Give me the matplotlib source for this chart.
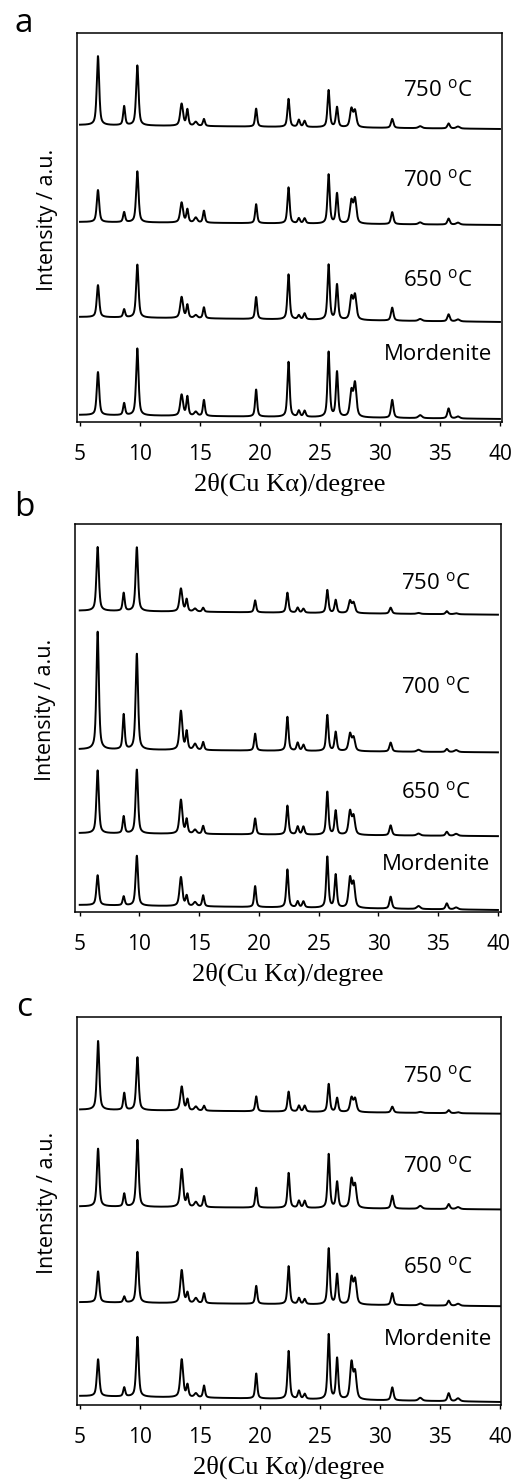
import numpy as np
import matplotlib
matplotlib.use("Agg")
import matplotlib.pyplot as plt

plt.rcParams["font.family"] = ["Open Sans", "DejaVu Sans"]
plt.rcParams["mathtext.fontset"] = "custom"
plt.rcParams["mathtext.rm"] = "Open Sans"

# peak positions (2theta, degree) shared by all patterns
peak_pos = [6.5, 8.68, 9.78, 13.47, 13.95, 14.65, 15.33, 19.68, 22.38, 23.24,
            23.72, 25.72, 26.42, 27.62, 27.92, 31.02, 33.35, 35.72, 36.5]
peak_fwhm = [0.24, 0.2, 0.24, 0.28, 0.2, 0.3, 0.2, 0.2, 0.22, 0.22,
             0.22, 0.22, 0.22, 0.28, 0.28, 0.24, 0.35, 0.24, 0.35]

samples = ["750 $^{\\mathrm{o}}$C", "700 $^{\\mathrm{o}}$C", "650 $^{\\mathrm{o}}$C", "Mordenite"]

# peak heights (a.u.), same order as peak_pos
a_750 = [69, 19, 60, 22, 16, 4, 7, 18, 28, 7, 6, 37, 20, 18, 16, 9, 2, 5, 2]
a_700 = [32, 10, 51, 20, 13, 5, 12, 19, 36, 5, 5, 49, 30, 22, 24, 12, 2, 6, 2]
a_650 = [32, 8, 53, 21, 13, 3, 11, 22, 45, 4, 6, 55, 35, 22, 24, 13, 2, 7, 2]
a_mor = [43, 12, 67, 21, 19, 4, 16, 27, 55, 6, 6, 65, 45, 25, 33, 18, 3, 10, 2]

b_750 = [64, 18, 64, 23, 12, 3, 4, 12, 20, 5, 4, 23, 13, 12, 10, 6, 1, 3, 1]
b_700 = [118, 35, 96, 39, 18, 6, 8, 17, 34, 8, 6, 36, 19, 17, 13, 9, 2, 3, 2]
b_650 = [63, 17, 64, 34, 14, 4, 8, 16, 29, 8, 8, 43, 24, 23, 18, 10, 2, 4, 2]
b_mor = [30, 9, 50, 29, 10, 4, 11, 21, 38, 6, 6, 51, 33, 29, 24, 12, 3, 6, 2]

c_750 = [69, 17, 53, 24, 11, 4, 5, 15, 20, 6, 6, 28, 14, 14, 13, 6, 1, 3, 1]
c_700 = [58, 13, 67, 38, 12, 5, 11, 20, 35, 7, 7, 54, 26, 28, 22, 13, 3, 5, 2]
c_650 = [31, 6, 51, 33, 10, 5, 10, 18, 38, 6, 5, 56, 30, 26, 24, 12, 2, 5, 2]
c_mor = [37, 9, 60, 38, 12, 4, 12, 25, 48, 8, 5, 65, 41, 36, 26, 13, 3, 8, 3]

# background level at 5 and 40 degree for each trace (a.u.)
a_base = [(297, 293), (200, 197), (105, 100), (7, 3)]
b_base = [(302, 298), (163, 160), (79, 76), (7, 2)]
c_base = [(296, 292), (199, 196), (103, 99), (9, 3)]

# label heights (a.u.)
a_lab = [332, 242, 142, 67]
b_lab = [329, 225, 120, 48]
c_lab = [329, 239, 138, 66]


def pattern(x, heights, base):
    """Pseudo-Voigt peaks on a linear background."""
    y = base[0] + (base[1] - base[0]) * (x - 5) / 35
    for p, h, w in zip(peak_pos, heights, peak_fwhm):
        hw = w / 2
        lor = 1 / (1 + ((x - p) / hw) ** 2)
        gau = np.exp(-np.log(2) * ((x - p) / hw) ** 2)
        y = y + h * (0.6 * lor + 0.4 * gau)
    return y


panels = [
    ("a", [0.1486, 0.7149, 0.8205, 0.2628], (4.75, 40.17),
     [a_750, a_700, a_650, a_mor], a_base, a_lab, 1 - 24 / 1480),
    ("b", [0.1442, 0.3838, 0.8224, 0.2622], (4.58, 40.23),
     [b_750, b_700, b_650, b_mor], b_base, b_lab, 1 - 507 / 1480),
    ("c", [0.1481, 0.0507, 0.8191, 0.2622], (4.72, 40.08),
     [c_750, c_700, c_650, c_mor], c_base, c_lab, 1 - 1007 / 1480),
]

fig = plt.figure(figsize=(5.18, 14.8), dpi=100)
x = np.arange(5, 40.001, 0.01)

for letter, rect, xlim, traces, bases, labs, ly in panels:
    ax = fig.add_axes(rect)
    for heights, base, lab_y, name in zip(traces, bases, labs, samples):
        ax.plot(x, pattern(x, heights, base), color="black", lw=1.4)
        ax.text(34.8, lab_y, name, ha="center", va="center", fontsize=16)
    ax.set_xlim(*xlim)
    ax.set_ylim(0, 389)
    ax.set_xticks(range(5, 41, 5))
    ax.set_yticks([])
    ax.tick_params(axis="x", direction="out", length=3, width=1,
                   labelsize=15, pad=13)
    for s in ax.spines.values():
        s.set_linewidth(1.1)
    ax.set_xlabel("2θ(Cu Kα)/degree", family=["Liberation Serif", "DejaVu Serif"],
                  fontsize=19, labelpad=5)
    ax.set_ylabel("Intensity / a.u.", fontsize=15.5)
    ax.yaxis.set_label_coords(-0.045, 0.52)
    fig.text(24 / 518, ly, letter, ha="center", va="center", fontsize=24)

fig.savefig("out.png", dpi=100)
